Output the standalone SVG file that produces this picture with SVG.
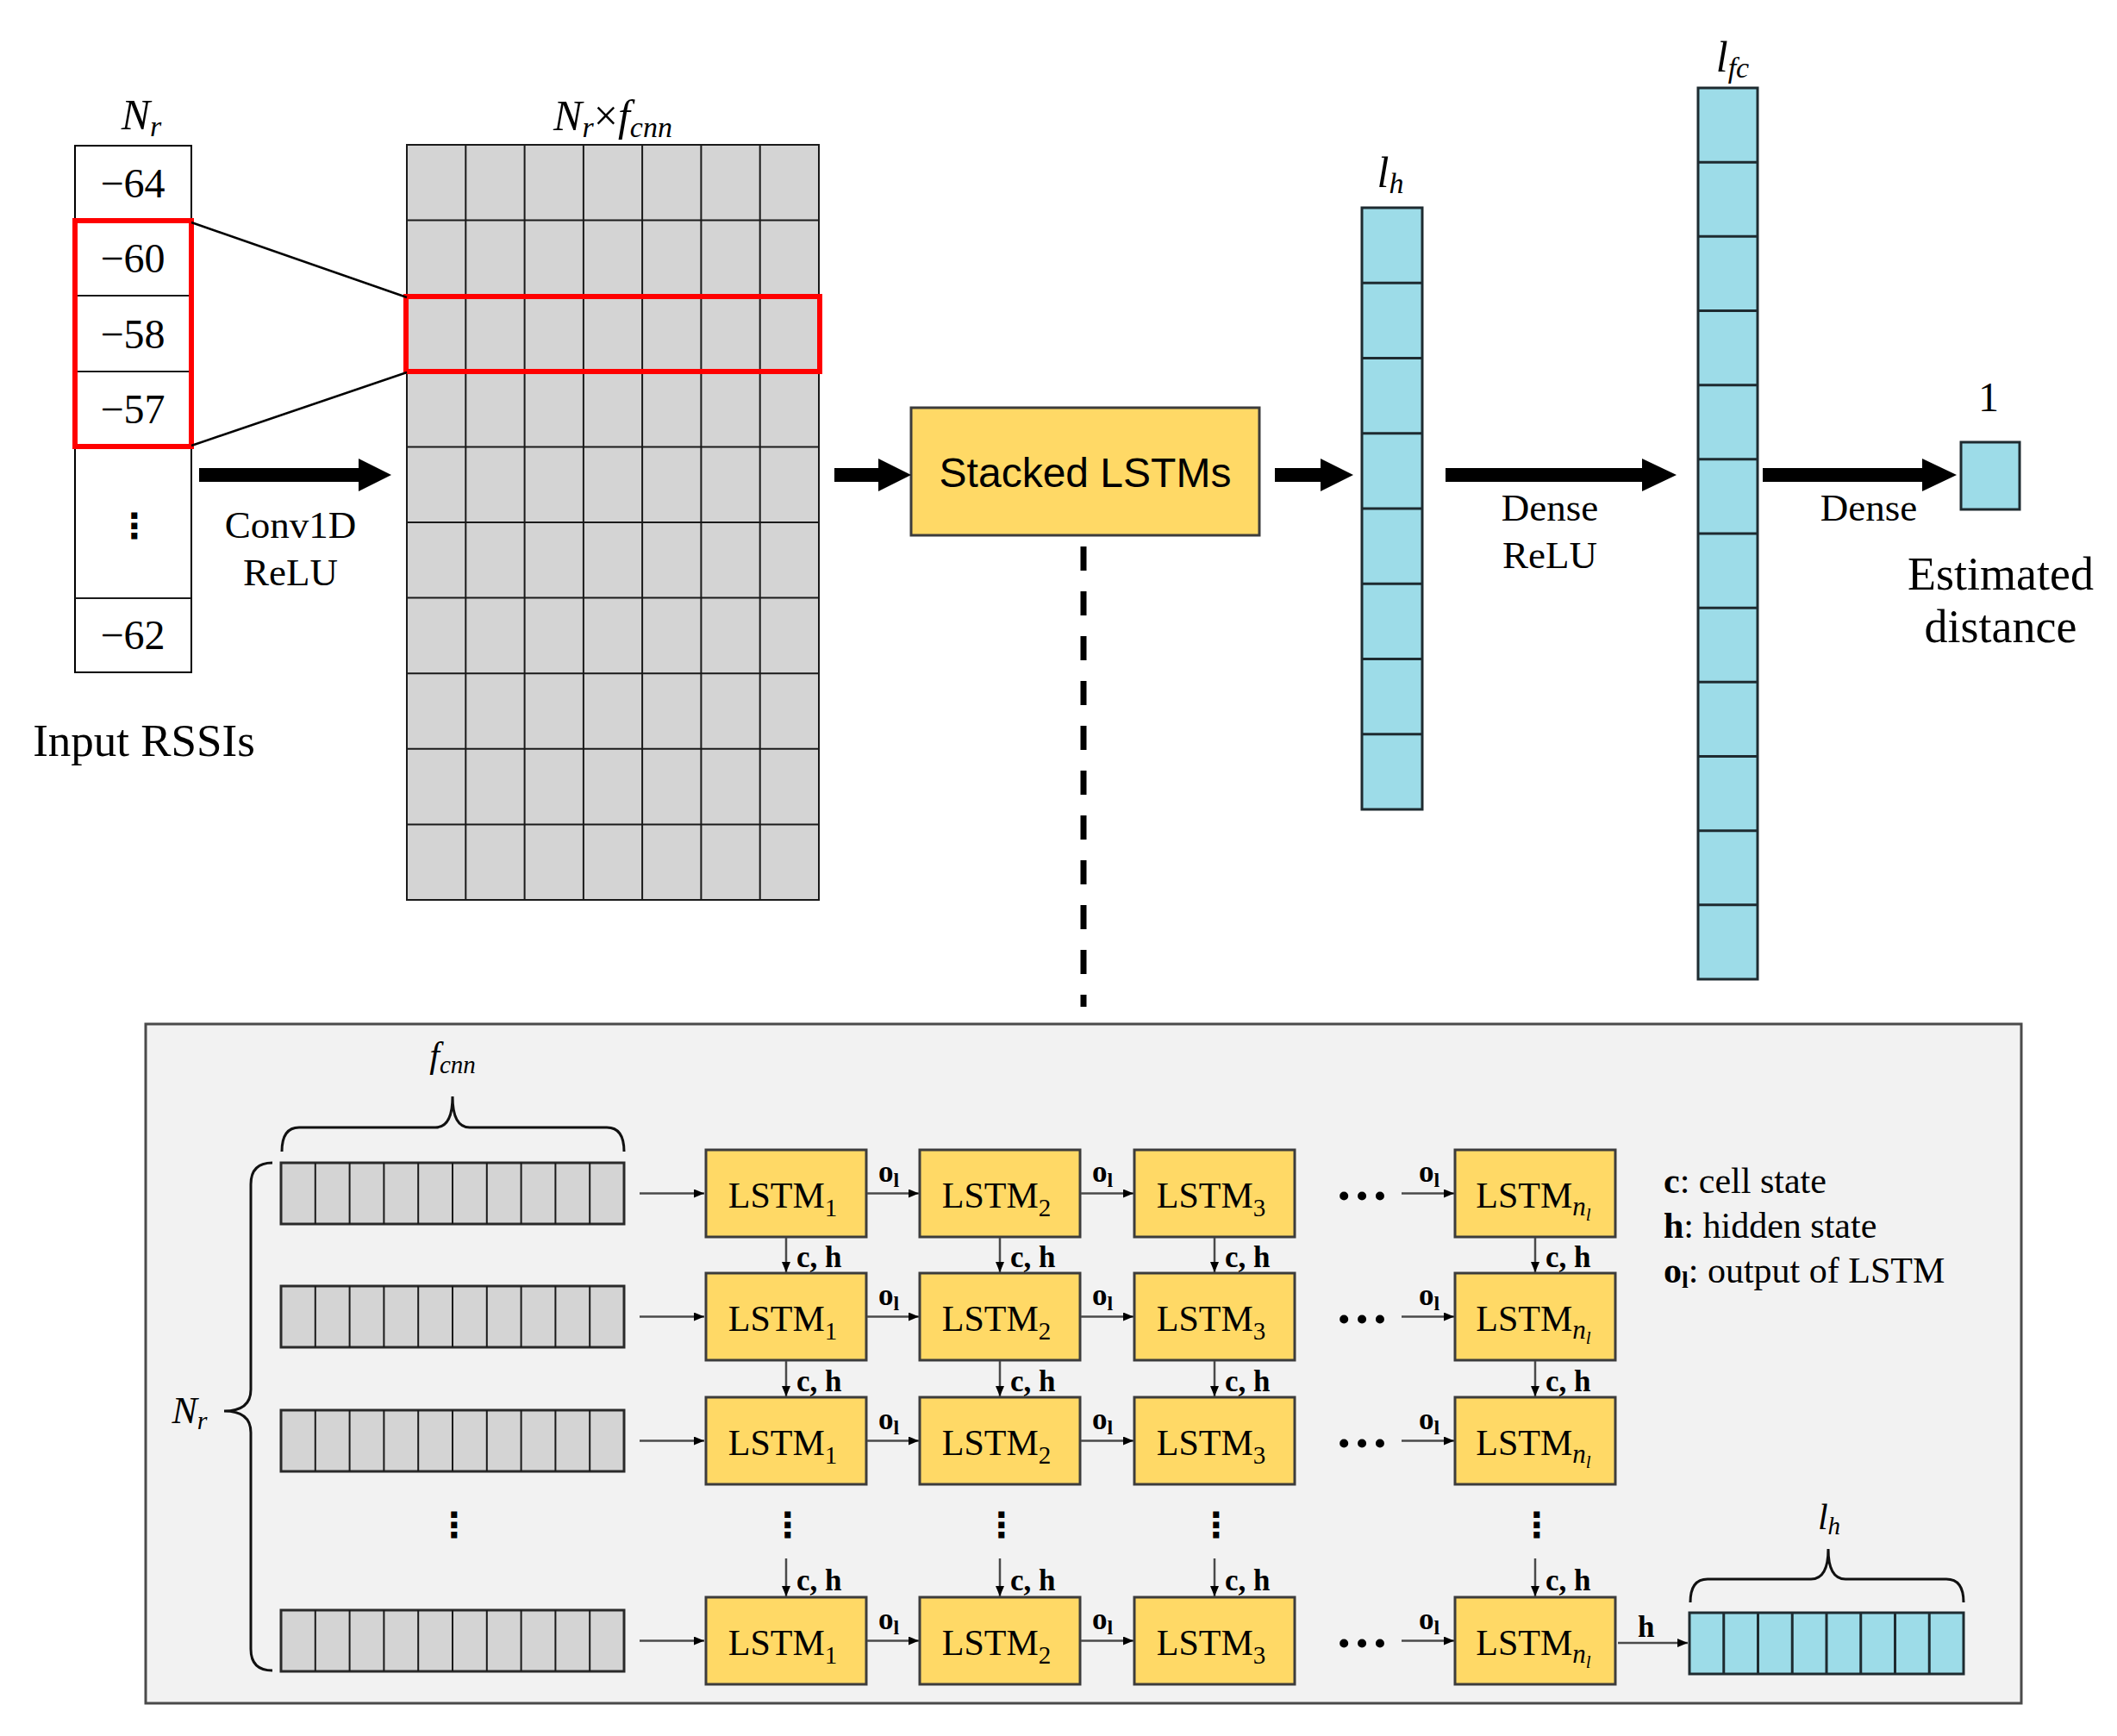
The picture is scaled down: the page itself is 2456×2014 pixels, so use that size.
<svg xmlns="http://www.w3.org/2000/svg" width="2456" height="2014" viewBox="0 0 2456 2014">
<defs>
<style>
.ser{font-family:"Liberation Serif","Times New Roman",serif}
.sans{font-family:"Liberation Sans",Arial,sans-serif}
.dv{font-family:"DejaVu Sans",sans-serif;font-weight:bold}
.gray{fill:#D4D4D4;stroke:#1a1a1a;stroke-width:2}
.strip{fill:#D4D4D4;stroke:#2a2a2a;stroke-width:3}
.gl{stroke:#1a1a1a;stroke-width:2;fill:none}
.cyan{fill:#9DDCE8;stroke:#1E2B30;stroke-width:3}
.cl{stroke:#1E2B30;stroke-width:3;fill:none}
.yel{fill:#FFD966;stroke:#3C3C3C;stroke-width:3}
.red{fill:none;stroke:#FF0000;stroke-width:6}
.big{fill:#000}
.sm{stroke:#4a4a4a;stroke-width:2.5;fill:none;marker-end:url(#ah)}
.lbl{font-weight:bold;font-size:35px}
.brace{fill:none;stroke:#111;stroke-width:3}
</style>
<marker id="ah" markerUnits="userSpaceOnUse" markerWidth="12" markerHeight="10" refX="12" refY="5" orient="auto"><path d="M0,0 L12,5 L0,10 z" fill="#000"/></marker>
</defs>
<rect width="2456" height="2014" fill="#fff"/>

<!-- Input column -->
<g id="input-rssi">
<rect x="87" y="169" width="135" height="611" fill="#fff" stroke="#000" stroke-width="2"/>
<path class="gl" d="M87,256H222M87,343H222M87,431H222M87,518H222M87,694H222"/>
<g class="ser" font-size="48" text-anchor="middle">
<text x="154" y="229">−64</text>
<text x="154" y="316">−60</text>
<text x="154" y="404">−58</text>
<text x="154" y="491">−57</text>
<text x="154" y="753">−62</text>
</g>
<text class="dv" x="156" y="624" font-size="40" text-anchor="middle">⋮</text>
<rect class="red" x="87" y="256" width="135" height="262"/>
<text class="ser" x="164" y="150" font-size="50" text-anchor="middle"><tspan font-style="italic">N</tspan><tspan font-style="italic" font-size="34" dy="8">r</tspan></text>
<text class="ser" x="167" y="877" font-size="53" text-anchor="middle">Input RSSIs</text>
</g>

<!-- Conv feature map -->
<g id="conv-map">
<rect class="gray" x="472" y="168" width="478" height="876"/>
<path class="gl" d="M540.3,168V1044M608.6,168V1044M676.9,168V1044M745.1,168V1044M813.4,168V1044M881.7,168V1044M472,255.6H950M472,343.2H950M472,430.8H950M472,518.4H950M472,606H950M472,693.6H950M472,781.2H950M472,868.8H950M472,956.4H950"/>
<rect class="red" x="471" y="344" width="480" height="87"/>
<text class="ser" x="711" y="151" font-size="50" text-anchor="middle"><tspan font-style="italic">N</tspan><tspan font-style="italic" font-size="34" dy="8">r</tspan><tspan dy="-8">×</tspan><tspan font-style="italic">f</tspan><tspan font-style="italic" font-size="34" dy="8">cnn</tspan></text>
</g>

<!-- Stacked LSTMs -->
<g id="stacked-lstms">
<rect class="yel" x="1057" y="473" width="404" height="148"/>
<text class="sans" x="1259" y="565" font-size="48" text-anchor="middle">Stacked LSTMs</text>
</g>

<!-- l_h column -->
<g id="lh-column">
<rect class="cyan" x="1580" y="241" width="70" height="698"/>
<path class="cl" d="M1580,328.25H1650M1580,415.5H1650M1580,502.75H1650M1580,590H1650M1580,677.25H1650M1580,764.5H1650M1580,851.75H1650"/>
<text class="ser" x="1613" y="217" font-size="50" text-anchor="middle"><tspan font-style="italic">l</tspan><tspan font-style="italic" font-size="34" dy="7">h</tspan></text>
</g>

<!-- l_fc column -->
<g id="lfc-column">
<rect class="cyan" x="1970" y="102" width="69" height="1034"/>
<path class="cl" d="M1970,188.2H2039M1970,274.3H2039M1970,360.5H2039M1970,446.7H2039M1970,532.8H2039M1970,619H2039M1970,705.2H2039M1970,791.3H2039M1970,877.5H2039M1970,963.7H2039M1970,1049.8H2039"/>
<text class="ser" x="2010" y="83" font-size="50" text-anchor="middle"><tspan font-style="italic">l</tspan><tspan font-style="italic" font-size="34" dy="7">fc</tspan></text>
</g>

<!-- Output -->
<g id="output">
<rect class="cyan" x="2275" y="513" width="68" height="78"/>
<text class="ser" x="2307" y="477" font-size="48" text-anchor="middle">1</text>
<text class="ser" x="2321" y="684" font-size="54" text-anchor="middle">Estimated</text>
<text class="ser" x="2321" y="745" font-size="54" text-anchor="middle">distance</text>
</g>

<!-- Top connectors -->
<g id="top-connectors">
<path d="M222,258L472,345M222,517L472,432" stroke="#000" stroke-width="2.5" fill="none"/>
<polygon class="big" points="231,543 416,543 416,532 454,551 416,570 416,559 231,559"/>
<polygon class="big" points="968,543 1019,543 1019,532 1057,551 1019,570 1019,559 968,559"/>
<polygon class="big" points="1479,543 1532,543 1532,532 1570,551 1532,570 1532,559 1479,559"/>
<polygon class="big" points="1677,543 1905,543 1905,532 1945,551 1905,570 1905,559 1677,559"/>
<polygon class="big" points="2045,543 2230,543 2230,532 2270,551 2230,570 2230,559 2045,559"/>
<line x1="1257" y1="634" x2="1257" y2="1168" stroke="#000" stroke-width="7" stroke-dasharray="28 24"/>
<g class="ser" font-size="45" text-anchor="middle">
<text x="337" y="624">Conv1D</text>
<text x="337" y="679">ReLU</text>
<text x="1798" y="604">Dense</text>
<text x="1798" y="659">ReLU</text>
<text x="2168" y="604">Dense</text>
</g>
</g>

<!-- Detail panel -->
<g id="detail-panel">
<rect x="169" y="1188" width="2176" height="788" fill="#F2F2F2" stroke="#4a4a4a" stroke-width="3"/>
</g>

<!-- Input strips -->
<g id="strips">
<g id="strip-1"><rect class="strip" x="326" y="1349" width="398" height="71"/><path class="gl" d="M365.8,1349v71M405.6,1349v71M445.4,1349v71M485.2,1349v71M525,1349v71M564.8,1349v71M604.6,1349v71M644.4,1349v71M684.2,1349v71"/></g>
<g id="strip-2"><rect class="strip" x="326" y="1492" width="398" height="71"/><path class="gl" d="M365.8,1492v71M405.6,1492v71M445.4,1492v71M485.2,1492v71M525,1492v71M564.8,1492v71M604.6,1492v71M644.4,1492v71M684.2,1492v71"/></g>
<g id="strip-3"><rect class="strip" x="326" y="1636" width="398" height="71"/><path class="gl" d="M365.8,1636v71M405.6,1636v71M445.4,1636v71M485.2,1636v71M525,1636v71M564.8,1636v71M604.6,1636v71M644.4,1636v71M684.2,1636v71"/></g>
<g id="strip-n"><rect class="strip" x="326" y="1868" width="398" height="71"/><path class="gl" d="M365.8,1868v71M405.6,1868v71M445.4,1868v71M485.2,1868v71M525,1868v71M564.8,1868v71M604.6,1868v71M644.4,1868v71M684.2,1868v71"/></g>
<path class="brace" d="M327,1336 Q327,1308 347,1308 L505,1308 Q525,1308 525,1272 Q525,1308 545,1308 L704,1308 Q724,1308 724,1336"/>
<text class="ser" x="525" y="1238" font-size="42" text-anchor="middle"><tspan font-style="italic">f</tspan><tspan font-style="italic" font-size="29" dy="7">cnn</tspan></text>
<path class="brace" d="M316,1349 Q291,1349 291,1374 L291,1612 Q291,1637 260,1637 Q291,1637 291,1662 L291,1913 Q291,1938 316,1938"/>
<text class="ser" x="220" y="1651" font-size="44" text-anchor="middle"><tspan font-style="italic">N</tspan><tspan font-style="italic" font-size="30" dy="7">r</tspan></text>
<text class="dv" x="527" y="1783" font-size="40" text-anchor="middle">⋮</text>
</g>

<!-- LSTM cells -->
<g id="lstm-cells" class="ser">
<g id="lstm-r1-c1"><rect class="yel" x="819" y="1334" width="186" height="101"/><text x="908" y="1401" font-size="42" text-anchor="middle">LSTM<tspan font-size="29" dy="10">1</tspan></text></g>
<g id="lstm-r1-c2"><rect class="yel" x="1067" y="1334" width="186" height="101"/><text x="1156" y="1401" font-size="42" text-anchor="middle">LSTM<tspan font-size="29" dy="10">2</tspan></text></g>
<g id="lstm-r1-c3"><rect class="yel" x="1316" y="1334" width="186" height="101"/><text x="1405" y="1401" font-size="42" text-anchor="middle">LSTM<tspan font-size="29" dy="10">3</tspan></text></g>
<g id="lstm-r1-cn"><rect class="yel" x="1688" y="1334" width="186" height="101"/><text x="1779" y="1401" font-size="42" text-anchor="middle">LSTM<tspan font-size="31" dy="9" font-style="italic">n</tspan><tspan font-size="21" dy="6" font-style="italic">l</tspan></text></g>

<g id="lstm-r2-c1"><rect class="yel" x="819" y="1477" width="186" height="101"/><text x="908" y="1544" font-size="42" text-anchor="middle">LSTM<tspan font-size="29" dy="10">1</tspan></text></g>
<g id="lstm-r2-c2"><rect class="yel" x="1067" y="1477" width="186" height="101"/><text x="1156" y="1544" font-size="42" text-anchor="middle">LSTM<tspan font-size="29" dy="10">2</tspan></text></g>
<g id="lstm-r2-c3"><rect class="yel" x="1316" y="1477" width="186" height="101"/><text x="1405" y="1544" font-size="42" text-anchor="middle">LSTM<tspan font-size="29" dy="10">3</tspan></text></g>
<g id="lstm-r2-cn"><rect class="yel" x="1688" y="1477" width="186" height="101"/><text x="1779" y="1544" font-size="42" text-anchor="middle">LSTM<tspan font-size="31" dy="9" font-style="italic">n</tspan><tspan font-size="21" dy="6" font-style="italic">l</tspan></text></g>

<g id="lstm-r3-c1"><rect class="yel" x="819" y="1621" width="186" height="101"/><text x="908" y="1688" font-size="42" text-anchor="middle">LSTM<tspan font-size="29" dy="10">1</tspan></text></g>
<g id="lstm-r3-c2"><rect class="yel" x="1067" y="1621" width="186" height="101"/><text x="1156" y="1688" font-size="42" text-anchor="middle">LSTM<tspan font-size="29" dy="10">2</tspan></text></g>
<g id="lstm-r3-c3"><rect class="yel" x="1316" y="1621" width="186" height="101"/><text x="1405" y="1688" font-size="42" text-anchor="middle">LSTM<tspan font-size="29" dy="10">3</tspan></text></g>
<g id="lstm-r3-cn"><rect class="yel" x="1688" y="1621" width="186" height="101"/><text x="1779" y="1688" font-size="42" text-anchor="middle">LSTM<tspan font-size="31" dy="9" font-style="italic">n</tspan><tspan font-size="21" dy="6" font-style="italic">l</tspan></text></g>

<g id="lstm-r4-c1"><rect class="yel" x="819" y="1853" width="186" height="101"/><text x="908" y="1920" font-size="42" text-anchor="middle">LSTM<tspan font-size="29" dy="10">1</tspan></text></g>
<g id="lstm-r4-c2"><rect class="yel" x="1067" y="1853" width="186" height="101"/><text x="1156" y="1920" font-size="42" text-anchor="middle">LSTM<tspan font-size="29" dy="10">2</tspan></text></g>
<g id="lstm-r4-c3"><rect class="yel" x="1316" y="1853" width="186" height="101"/><text x="1405" y="1920" font-size="42" text-anchor="middle">LSTM<tspan font-size="29" dy="10">3</tspan></text></g>
<g id="lstm-r4-cn"><rect class="yel" x="1688" y="1853" width="186" height="101"/><text x="1779" y="1920" font-size="42" text-anchor="middle">LSTM<tspan font-size="31" dy="9" font-style="italic">n</tspan><tspan font-size="21" dy="6" font-style="italic">l</tspan></text></g>
</g>

<!-- Output strip l_h -->
<g id="lh-strip">
<rect class="cyan" x="1960" y="1871" width="318" height="71"/>
<path class="cl" d="M1999.75,1871v71M2039.5,1871v71M2079.25,1871v71M2119,1871v71M2158.75,1871v71M2198.5,1871v71M2238.25,1871v71"/>
<path class="brace" d="M1961,1859 Q1961,1832 1981,1832 L2101,1832 Q2121,1832 2121,1797 Q2121,1832 2141,1832 L2258,1832 Q2278,1832 2278,1859"/>
<text class="ser" x="2122" y="1774" font-size="42" text-anchor="middle"><tspan font-style="italic">l</tspan><tspan font-style="italic" font-size="29" dy="6">h</tspan></text>
</g>

<!-- Legend -->
<g id="legend" class="ser" font-size="42">
<text x="1930" y="1384"><tspan font-weight="bold">c</tspan>: cell state</text>
<text x="1930" y="1436"><tspan font-weight="bold">h</tspan>: hidden state</text>
<text x="1930" y="1488"><tspan font-weight="bold">o</tspan><tspan font-weight="bold" font-size="28" dy="6">l</tspan><tspan dy="-6">: output of LSTM</tspan></text>
</g>

<!-- Detail connectors -->
<g id="detail-connectors">
<path class="sm" d="M742,1384.5H817"/>
<path class="sm" d="M742,1527.5H817"/>
<path class="sm" d="M742,1671.5H817"/>
<path class="sm" d="M742,1903.5H817"/>
<path class="sm" d="M1006,1384.5H1066"/><path class="sm" d="M1254,1384.5H1315"/><path class="sm" d="M1626,1384.5H1687"/>
<path class="sm" d="M1006,1527.5H1066"/><path class="sm" d="M1254,1527.5H1315"/><path class="sm" d="M1626,1527.5H1687"/>
<path class="sm" d="M1006,1671.5H1066"/><path class="sm" d="M1254,1671.5H1315"/><path class="sm" d="M1626,1671.5H1687"/>
<path class="sm" d="M1006,1903.5H1066"/><path class="sm" d="M1254,1903.5H1315"/><path class="sm" d="M1626,1903.5H1687"/>
<path class="sm" d="M912,1436V1476"/><path class="sm" d="M1160,1436V1476"/><path class="sm" d="M1409,1436V1476"/><path class="sm" d="M1781,1436V1476"/>
<path class="sm" d="M912,1579V1620"/><path class="sm" d="M1160,1579V1620"/><path class="sm" d="M1409,1579V1620"/><path class="sm" d="M1781,1579V1620"/>
<path class="sm" d="M912,1808V1852"/><path class="sm" d="M1160,1808V1852"/><path class="sm" d="M1409,1808V1852"/><path class="sm" d="M1781,1808V1852"/>
<path class="sm" d="M1877,1906H1958"/>
<g class="ser lbl">
<text x="1019" y="1371">o<tspan font-size="24" dy="6">l</tspan></text>
<text x="1267" y="1371">o<tspan font-size="24" dy="6">l</tspan></text>
<text x="1646" y="1371">o<tspan font-size="24" dy="6">l</tspan></text>
<text x="1019" y="1514">o<tspan font-size="24" dy="6">l</tspan></text>
<text x="1267" y="1514">o<tspan font-size="24" dy="6">l</tspan></text>
<text x="1646" y="1514">o<tspan font-size="24" dy="6">l</tspan></text>
<text x="1019" y="1658">o<tspan font-size="24" dy="6">l</tspan></text>
<text x="1267" y="1658">o<tspan font-size="24" dy="6">l</tspan></text>
<text x="1646" y="1658">o<tspan font-size="24" dy="6">l</tspan></text>
<text x="1019" y="1890">o<tspan font-size="24" dy="6">l</tspan></text>
<text x="1267" y="1890">o<tspan font-size="24" dy="6">l</tspan></text>
<text x="1646" y="1890">o<tspan font-size="24" dy="6">l</tspan></text>
<text x="924" y="1470">c, h</text><text x="1172" y="1470">c, h</text><text x="1421" y="1470">c, h</text><text x="1793" y="1470">c, h</text>
<text x="924" y="1614">c, h</text><text x="1172" y="1614">c, h</text><text x="1421" y="1614">c, h</text><text x="1793" y="1614">c, h</text>
<text x="924" y="1845">c, h</text><text x="1172" y="1845">c, h</text><text x="1421" y="1845">c, h</text><text x="1793" y="1845">c, h</text>
<text x="1900" y="1899">h</text>
</g>
<g class="ser" font-size="62" font-weight="bold" text-anchor="middle">
<text x="1580" y="1392">…</text>
<text x="1580" y="1535">…</text>
<text x="1580" y="1679">…</text>
<text x="1580" y="1911">…</text>
</g>
<g class="dv" font-size="40" text-anchor="middle">
<text x="914" y="1783">⋮</text>
<text x="1162" y="1783">⋮</text>
<text x="1411" y="1783">⋮</text>
<text x="1783" y="1783">⋮</text>
</g>
</g>
</svg>
